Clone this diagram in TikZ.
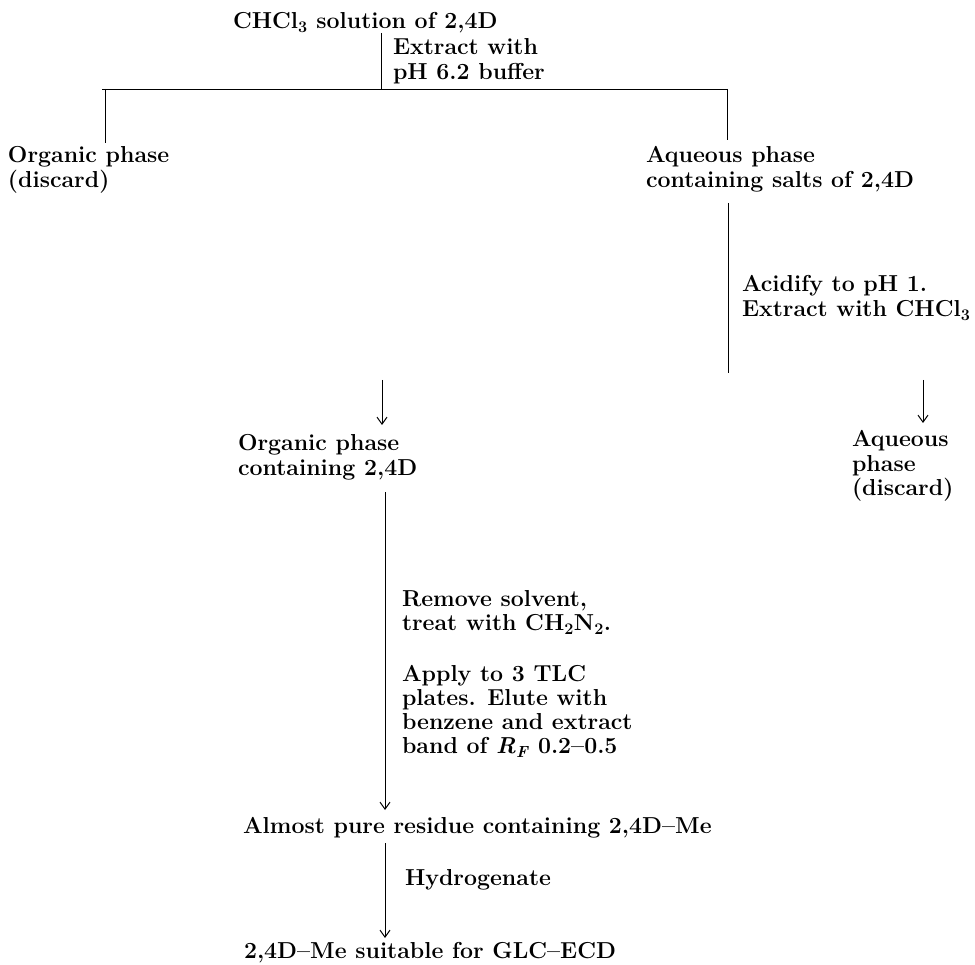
\documentclass[tikz,border=0pt]{standalone}
\usetikzlibrary{arrows.meta}
\newcommand{\flowtext}[1]{\begin{tabular}[t]{@{}l@{}}#1\end{tabular}}
\tikzset{
  lbl/.style={anchor=base west, inner sep=0pt, outer sep=0pt,
    font=\fontsize{23.1}{24.3}\selectfont\bfseries},
  ln/.style={line width=0.9pt, black},
  arr/.style={ln, -{Straight Barb[length=7pt,width=10pt,line width=1pt]}}
}
\begin{document}
\begin{tikzpicture}[x=1pt,y=-1pt]
\useasboundingbox (0,0) rectangle (975,965);
% text nodes
\node[lbl] (src) at (233,29) {CHCl\textsubscript{3} solution of 2,4D};
\node[lbl] (ext) at (393,55) {\flowtext{Extract with\\pH 6.2 buffer}};
\node[lbl] (org1) at (8,163) {\flowtext{Organic phase\\(discard)}};
\node[lbl] (aq1) at (646,163) {\flowtext{Aqueous phase\\containing salts of 2,4D}};
\node[lbl] (acid) at (742,292) {\flowtext{Acidify to pH 1.\\Extract with CHCl\textsubscript{3}}};
\node[lbl] (org2) at (238,451) {\flowtext{Organic phase\\containing 2,4D}};
\node[lbl] (aq2) at (852,447) {\flowtext{Aqueous\\phase\\(discard)}};
\node[lbl] (rem) at (402,606) {\flowtext{Remove solvent,\\treat with CH\textsubscript{2}N\textsubscript{2}.}};
\node[lbl] (app) at (402,681) {\flowtext{Apply to 3 TLC\\plates. Elute with\\benzene and extract\\band of \textit{R}\textsubscript{\textit{F}} 0.2--0.5}};
\node[lbl] (res) at (243,833) {Almost pure residue containing 2,4D--Me};
\node[lbl] (hyd) at (405,885) {Hydrogenate};
\node[lbl] (fin) at (244,958) {2,4D--Me suitable for GLC--ECD};
% connector points
\coordinate (s1) at (381,33);
\coordinate (s2) at (381,89);
\coordinate (hl) at (102,89);
\coordinate (jl) at (105,89);
\coordinate (jr) at (727,89);
\coordinate (l1) at (105,143);
\coordinate (r1) at (727,140);
\coordinate (v1) at (728,203);
\coordinate (v2) at (728,373);
\coordinate (m1) at (382,380);
\coordinate (m2) at (382,425);
\coordinate (a1) at (923,380);
\coordinate (a2) at (923,423);
\coordinate (o1) at (385,492);
\coordinate (o2) at (385,810);
\coordinate (h1) at (385,843);
\coordinate (h2) at (385,938);
% connectors
\draw[ln] (s1) -- (s2);
\draw[ln] (hl) -- (jr);
\draw[ln] (jl) -- (l1);
\draw[ln] (jr) -- (r1);
\draw[ln] (v1) -- (v2);
\draw[arr] (m1) -- (m2);
\draw[arr] (a1) -- (a2);
\draw[arr] (o1) -- (o2);
\draw[arr] (h1) -- (h2);
\end{tikzpicture}
\end{document}
